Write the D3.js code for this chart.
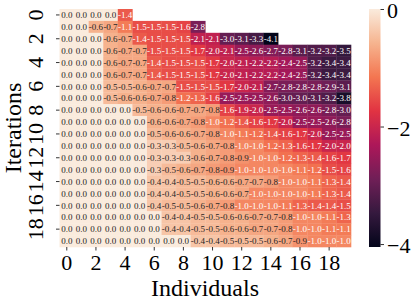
<!DOCTYPE html>
<html>
<head>
<meta charset="utf-8">
<script src="https://cdn.jsdelivr.net/npm/d3@7"></script>
<style>
  body { margin: 0; background: #fff; }
  text { font-family: "Liberation Serif", "Times New Roman", serif; }
</style>
</head>
<body>
<svg id="chart" width="415" height="300"></svg>
<script>
// Fitness of each individual per iteration (sorted, NaN = not evaluated yet)
const gen0 = [0.0, 0.0, 0.0, 0.0, -1.4];
const gen1 = [0.0, 0.0, -0.6, -0.7, -1.1, -1.5, -1.5, -1.5, -1.6, -2.8];
const gen2 = [0.0, 0.0, 0.0, -0.6, -0.7, -1.4, -1.5, -1.5, -1.5, -2.1, -2.1, -3.0, -3.1, -3.3, -4.1];
const gen3 = [0.0, 0.0, 0.0, -0.6, -0.7, -0.7, -1.5, -1.5, -1.5, -1.7, -2.0, -2.1, -2.5, -2.6, -2.7, -2.8, -3.1, -3.2, -3.2, -3.5];
const gen4 = [0.0, 0.0, 0.0, -0.6, -0.7, -0.7, -1.4, -1.5, -1.5, -1.5, -1.7, -2.0, -2.1, -2.2, -2.2, -2.4, -2.5, -3.2, -3.4, -3.4];
const gen5 = [0.0, 0.0, 0.0, -0.6, -0.7, -0.7, -1.4, -1.5, -1.5, -1.5, -1.7, -2.0, -2.1, -2.2, -2.2, -2.4, -2.5, -3.2, -3.4, -3.4];
const gen6 = [0.0, 0.0, 0.0, -0.5, -0.5, -0.6, -0.7, -0.7, -1.5, -1.5, -1.5, -1.7, -2.0, -2.1, -2.7, -2.8, -2.8, -2.8, -2.9, -3.1];
const gen7 = [0.0, 0.0, 0.0, -0.5, -0.6, -0.6, -0.7, -0.8, -1.2, -1.3, -1.6, -2.5, -2.5, -2.5, -2.6, -3.0, -3.0, -3.1, -3.2, -3.8];
const gen8 = [0.0, 0.0, 0.0, 0.0, 0.0, -0.5, -0.6, -0.6, -0.7, -0.7, -0.8, -1.6, -1.9, -2.0, -2.5, -2.5, -2.6, -2.6, -2.8, -3.0];
const gen9 = [0.0, 0.0, 0.0, 0.0, 0.0, 0.0, -0.6, -0.6, -0.7, -0.8, -1.0, -1.2, -1.4, -1.6, -1.7, -2.0, -2.5, -2.5, -2.6, -2.8];
const gen10 = [0.0, 0.0, 0.0, 0.0, 0.0, 0.0, -0.5, -0.6, -0.6, -0.7, -0.8, -1.0, -1.1, -1.2, -1.4, -1.6, -1.7, -2.0, -2.5, -2.5];
const gen11 = [0.0, 0.0, 0.0, 0.0, 0.0, 0.0, -0.3, -0.3, -0.5, -0.6, -0.7, -0.8, -1.0, -1.0, -1.2, -1.3, -1.6, -1.7, -2.0, -2.0];
const gen12 = [0.0, 0.0, 0.0, 0.0, 0.0, 0.0, -0.3, -0.3, -0.3, -0.6, -0.7, -0.8, -0.9, -1.0, -1.0, -1.2, -1.3, -1.4, -1.6, -1.7];
const gen13 = [0.0, 0.0, 0.0, 0.0, 0.0, 0.0, -0.3, -0.5, -0.6, -0.7, -0.8, -0.9, -1.0, -1.0, -1.0, -1.0, -1.1, -1.2, -1.5, -1.6];
const gen14 = [0.0, 0.0, 0.0, 0.0, 0.0, 0.0, -0.4, -0.4, -0.5, -0.5, -0.6, -0.6, -0.7, -0.7, -0.8, -1.0, -1.0, -1.1, -1.3, -1.4];
const gen15 = [0.0, 0.0, 0.0, 0.0, 0.0, 0.0, -0.4, -0.4, -0.5, -0.5, -0.6, -0.6, -0.7, -1.0, -1.0, -1.0, -1.0, -1.1, -1.3, -1.4];
const gen16 = [0.0, 0.0, 0.0, 0.0, 0.0, 0.0, -0.4, -0.5, -0.5, -0.6, -0.7, -0.8, -1.0, -1.0, -1.0, -1.1, -1.3, -1.4, -1.4, -1.5];
const gen17 = [0.0, 0.0, 0.0, 0.0, 0.0, 0.0, 0.0, -0.4, -0.4, -0.5, -0.5, -0.6, -0.6, -0.7, -0.7, -0.8, -1.0, -1.0, -1.1, -1.3];
const gen18 = [0.0, 0.0, 0.0, 0.0, 0.0, 0.0, 0.0, -0.4, -0.4, -0.5, -0.5, -0.6, -0.6, -0.7, -0.7, -0.8, -1.0, -1.0, -1.1, -1.1];
const gen19 = [0.0, 0.0, 0.0, 0.0, 0.0, 0.0, 0.0, 0.0, 0.0, -0.4, -0.4, -0.5, -0.5, -0.5, -0.6, -0.7, -0.9, -1.0, -1.0, -1.0];

const iterations = d3.range(20);
const individuals = d3.range(20);
const xTickValues = [0, 2, 4, 6, 8, 10, 12, 14, 16, 18];
const yTickValues = [0, 2, 4, 6, 8, 10, 12, 14, 16, 18];
const colorbarTicks = [0, -2, -4];

const generations = [gen0, gen1, gen2, gen3, gen4, gen5, gen6, gen7, gen8, gen9,
    gen10, gen11, gen12, gen13, gen14, gen15, gen16, gen17, gen18, gen19];

// seaborn "rocket" colormap, approximated by a few anchor colours
const rocketStops = [0, 1 / 7, 2 / 7, 3 / 7, 4 / 7, 5 / 7, 6 / 7, 1];
const rocketColors = ["#03051a", "#35193e", "#701f57", "#ad1759", "#e13342", "#f37651", "#f6b48f", "#faebdd"];

const vmin = -4.05, vmax = 0;

const svg = d3.select("#chart");

// Heatmap area
const x = d3.scaleBand().domain(individuals).range([59.5, 351]);
const y = d3.scaleBand().domain(iterations).range([9, 247]);

const rocket = d3.scaleLinear().domain(rocketStops).range(rocketColors).clamp(true);
const norm = d3.scaleLinear().domain([vmin, vmax]).clamp(true);
const color = v => rocket(norm(v));

// Relative luminance, same rule seaborn uses for annotation colour
function luminance(c) {
    const rgb = d3.rgb(c);
    const lin = [rgb.r, rgb.g, rgb.b].map(v => {
        v = v / 255;
        return v <= 0.03928 ? v / 12.92 : Math.pow((v + 0.055) / 1.055, 2.4);
    });
    return 0.2126 * lin[0] + 0.7152 * lin[1] + 0.0722 * lin[2];
}

const cells = [];
generations.forEach((row, i) => {
    row.forEach((v, j) => cells.push({ iter: i, ind: j, value: v }));
});

const cellGroup = svg.append("g").attr("class", "cells");
cellGroup.selectAll("rect")
    .data(cells)
    .join("rect")
    .attr("x", d => x(d.ind))
    .attr("y", d => y(d.iter))
    .attr("width", x.bandwidth() + 0.3)
    .attr("height", y.bandwidth() + 0.3)
    .attr("fill", d => color(d.value));

cellGroup.selectAll("text")
    .data(cells)
    .join("text")
    .attr("x", d => x(d.ind) + x.bandwidth() / 2)
    .attr("y", d => y(d.iter) + y.bandwidth() / 2)
    .attr("dy", "0.35em")
    .attr("text-anchor", "middle")
    .attr("font-size", "9px")
    .attr("fill", d => luminance(color(d.value)) > 0.408 ? "#262626" : "#ffffff")
    .text(d => d.value.toFixed(1));

// X axis
const xAxis = d3.axisBottom(x).tickValues(xTickValues).tickSize(3.5).tickSizeOuter(0);
const xAxisGroup = svg.append("g")
    .attr("transform", "translate(0,247)")
    .call(xAxis);
xAxisGroup.select(".domain").remove();
xAxisGroup.selectAll("line").attr("stroke", "#000").attr("stroke-width", 0.8);
xAxisGroup.selectAll("text")
    .attr("y", 23)
    .attr("dy", 0)
    .attr("fill", "#000")
    .attr("font-size", "22px")
    .attr("font-family", "Liberation Serif, serif");

// Y axis, labels turned vertical
const yAxis = d3.axisLeft(y).tickValues(yTickValues).tickSize(3.5).tickSizeOuter(0);
const yAxisGroup = svg.append("g")
    .attr("transform", "translate(59.5,0)")
    .call(yAxis);
yAxisGroup.select(".domain").remove();
yAxisGroup.selectAll("line").attr("stroke", "#000").attr("stroke-width", 0.8);
yAxisGroup.selectAll("text")
    .attr("x", 0)
    .attr("dy", 0)
    .attr("text-anchor", "middle")
    .attr("transform", "translate(-16.5,0) rotate(-90)")
    .attr("fill", "#000")
    .attr("font-size", "22px")
    .attr("font-family", "Liberation Serif, serif");

// Axis titles
svg.append("text")
    .attr("x", 205)
    .attr("y", 296)
    .attr("text-anchor", "middle")
    .attr("font-size", "24px")
    .text("Individuals");

svg.append("text")
    .attr("transform", "translate(21,128) rotate(-90)")
    .attr("text-anchor", "middle")
    .attr("font-size", "24px")
    .text("Iterations");

// Colorbar
const cbScale = d3.scaleLinear().domain([vmin, vmax]).range([247, 9]);
const grad = svg.append("defs").append("linearGradient")
    .attr("id", "rocket-grad")
    .attr("x1", 0).attr("y1", 1).attr("x2", 0).attr("y2", 0);
grad.selectAll("stop")
    .data(rocketStops)
    .join("stop")
    .attr("offset", d => d)
    .attr("stop-color", (d, i) => rocketColors[i]);

svg.append("rect")
    .attr("x", 369)
    .attr("y", cbScale(vmax))
    .attr("width", 11.5)
    .attr("height", cbScale(vmin) - cbScale(vmax))
    .attr("fill", "url(#rocket-grad)");

const cbAxis = d3.axisRight(cbScale)
    .tickValues(colorbarTicks)
    .tickSize(3.5)
    .tickPadding(3)
    .tickFormat(d => d < 0 ? "\u2212" + Math.abs(d) : String(d));
const cbGroup = svg.append("g")
    .attr("transform", "translate(380.5,0)")
    .call(cbAxis);
cbGroup.select(".domain").remove();
cbGroup.selectAll("line").attr("stroke", "#000").attr("stroke-width", 0.8);
cbGroup.selectAll("text")
    .attr("dy", "0.4em")
    .attr("fill", "#000")
    .attr("font-size", "22px")
    .attr("font-family", "Liberation Serif, serif");
</script>
</body>
</html>
